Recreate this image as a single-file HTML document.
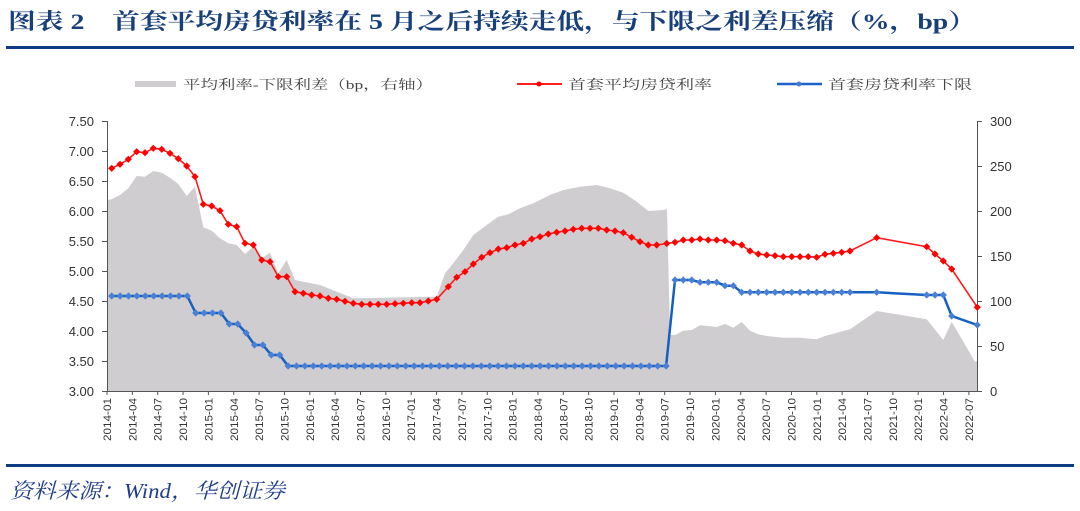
<!DOCTYPE html>
<html><head><meta charset="utf-8"><style>
html,body{margin:0;padding:0;background:#fff;}
svg{display:block;}
</style></head><body>
<svg width="1080" height="511" viewBox="0 0 1080 511" xmlns="http://www.w3.org/2000/svg">
<defs>
<marker id="mr" viewBox="-4 -4 8 8" markerWidth="8" markerHeight="8" markerUnits="userSpaceOnUse" refX="0" refY="0"><path d="M-3.6 0L0 -3.6L3.6 0L0 3.6Z" fill="#ff0000"/></marker>
<marker id="mb" viewBox="-4 -4 8 8" markerWidth="8" markerHeight="8" markerUnits="userSpaceOnUse" refX="0" refY="0"><path d="M-3.6 0L0 -3.6L3.6 0L0 3.6Z" fill="#4a7fd4"/></marker>
</defs>
<text x="8" y="29" font-family="'Liberation Serif','Noto Serif CJK SC',serif" font-weight="bold" font-size="22" fill="#173f7a" textLength="968" lengthAdjust="spacingAndGlyphs">图表 2　首套平均房贷利率在 5 月之后持续走低，与下限之利差压缩（%，bp）</text>
<rect x="6" y="46" width="1068" height="3" fill="#0f3d84"/>
<rect x="6" y="464" width="1068" height="3" fill="#0f3d84"/>
<text x="10" y="498" font-family="'Liberation Serif','Noto Serif CJK SC',serif" font-style="italic" font-size="21" fill="#1f3c88" textLength="275" lengthAdjust="spacingAndGlyphs">资料来源：Wind，华创证券</text>

<g font-family="'Liberation Serif','Noto Serif CJK SC',serif" font-size="13" fill="#444">
<rect x="135" y="81" width="41" height="6" fill="#cfcdcf"/>
<text x="183" y="89" textLength="250" lengthAdjust="spacingAndGlyphs">平均利率-下限利差（bp，右轴）</text>
<line x1="517" y1="84" x2="562" y2="84" stroke="#ff2020" stroke-width="2"/><circle cx="539" cy="84" r="2.5" fill="#ff0000"/>
<text x="568" y="89" textLength="144" lengthAdjust="spacingAndGlyphs">首套平均房贷利率</text>
<line x1="777" y1="84" x2="822" y2="84" stroke="#1f62c8" stroke-width="2.5"/><circle cx="799" cy="84" r="2.5" fill="#4a7bd0"/>
<text x="828" y="89" textLength="144" lengthAdjust="spacingAndGlyphs">首套房贷利率下限</text>
</g>

<polygon fill="#cfcdcf" points="107,391 107,200 111.7,199.3 120,195 128.3,188.3 136.7,176 145,176.7 153.3,171 161.7,172.7 170,177.7 178.3,184 186.7,196 195,186.7 203.3,227.3 211.7,230.7 220,238.3 228.3,243.3 236.7,245 245,254 253.3,246.7 261.7,258.3 270,252.7 278.3,273.3 286.7,260 295,280 303.3,281.7 320,285 336.7,291.7 353.3,298.3 436.7,296.7 445,273.3 453.3,263.3 463.3,250 473.3,235 486.7,225 498.3,216.7 508.3,214.3 520,208.3 533.3,203.3 550,195 563.3,190 580,186.7 596.7,185 610,188.3 623.3,192.7 636.7,201.7 648.3,211 663.3,210 667,209 670,335 675,335 683.3,330.7 691.7,330 700,325.3 708.3,326 716.7,327 725,324 733.3,327.7 741.7,322 750,330.7 758.3,334.3 766.7,336 783.3,337.7 800,337.7 816.7,339.3 825,336 850,329.3 876.7,311 926.7,319.3 943.3,340 951.7,321.7 975,361.7 977,361 977,391"/>

<g stroke="#555" stroke-width="1" fill="none">
<line x1="107.5" y1="121" x2="107.5" y2="391"/>
<line x1="977.5" y1="121" x2="977.5" y2="391"/>
<line x1="107" y1="391.5" x2="977" y2="391.5"/>
<path d="M102 121.5H107 M102 151.5H107 M102 181.5H107 M102 211.5H107 M102 241.5H107 M102 271.5H107 M102 301.5H107 M102 331.5H107 M102 361.5H107 M102 391.5H107"/>
<path d="M977 121.5H982 M977 166.5H982 M977 211.5H982 M977 256.5H982 M977 301.5H982 M977 346.5H982 M977 391.5H982"/>
<path d="M107 391V395 M132.35 391V395 M157.7 391V395 M183.05 391V395 M208.4 391V395 M233.75 391V395 M259.1 391V395 M284.45 391V395 M309.8 391V395 M335.15 391V395 M360.5 391V395 M385.85 391V395 M411.2 391V395 M436.55 391V395 M461.9 391V395 M487.25 391V395 M512.6 391V395 M537.95 391V395 M563.3 391V395 M588.65 391V395 M614 391V395 M639.35 391V395 M664.7 391V395 M690.05 391V395 M715.4 391V395 M740.75 391V395 M766.1 391V395 M791.45 391V395 M816.8 391V395 M842.15 391V395 M867.5 391V395 M892.85 391V395 M918.2 391V395 M943.55 391V395 M968.9 391V395"/>
</g>
<g font-family="'Liberation Sans',sans-serif" font-size="13" fill="#333" text-anchor="end">
<text x="94" y="126">7.50</text><text x="94" y="156">7.00</text><text x="94" y="186">6.50</text><text x="94" y="216">6.00</text><text x="94" y="246">5.50</text><text x="94" y="276">5.00</text><text x="94" y="306">4.50</text><text x="94" y="336">4.00</text><text x="94" y="366">3.50</text><text x="94" y="396">3.00</text>
</g>
<g font-family="'Liberation Sans',sans-serif" font-size="13" fill="#333">
<text x="990" y="126">300</text><text x="990" y="171">250</text><text x="990" y="216">200</text><text x="990" y="261">150</text><text x="990" y="306">100</text><text x="990" y="351">50</text><text x="990" y="396">0</text>
</g>
<g font-family="'Liberation Sans Narrow','Liberation Sans',sans-serif" font-size="11" fill="#333" text-anchor="end">
<text transform="translate(111,398) rotate(-90)" textLength="43" lengthAdjust="spacingAndGlyphs">2014-01</text>
<text transform="translate(136.35,398) rotate(-90)" textLength="43" lengthAdjust="spacingAndGlyphs">2014-04</text>
<text transform="translate(161.7,398) rotate(-90)" textLength="43" lengthAdjust="spacingAndGlyphs">2014-07</text>
<text transform="translate(187.05,398) rotate(-90)" textLength="43" lengthAdjust="spacingAndGlyphs">2014-10</text>
<text transform="translate(212.4,398) rotate(-90)" textLength="43" lengthAdjust="spacingAndGlyphs">2015-01</text>
<text transform="translate(237.75,398) rotate(-90)" textLength="43" lengthAdjust="spacingAndGlyphs">2015-04</text>
<text transform="translate(263.1,398) rotate(-90)" textLength="43" lengthAdjust="spacingAndGlyphs">2015-07</text>
<text transform="translate(288.45,398) rotate(-90)" textLength="43" lengthAdjust="spacingAndGlyphs">2015-10</text>
<text transform="translate(313.8,398) rotate(-90)" textLength="43" lengthAdjust="spacingAndGlyphs">2016-01</text>
<text transform="translate(339.15,398) rotate(-90)" textLength="43" lengthAdjust="spacingAndGlyphs">2016-04</text>
<text transform="translate(364.5,398) rotate(-90)" textLength="43" lengthAdjust="spacingAndGlyphs">2016-07</text>
<text transform="translate(389.85,398) rotate(-90)" textLength="43" lengthAdjust="spacingAndGlyphs">2016-10</text>
<text transform="translate(415.2,398) rotate(-90)" textLength="43" lengthAdjust="spacingAndGlyphs">2017-01</text>
<text transform="translate(440.55,398) rotate(-90)" textLength="43" lengthAdjust="spacingAndGlyphs">2017-04</text>
<text transform="translate(465.9,398) rotate(-90)" textLength="43" lengthAdjust="spacingAndGlyphs">2017-07</text>
<text transform="translate(491.25,398) rotate(-90)" textLength="43" lengthAdjust="spacingAndGlyphs">2017-10</text>
<text transform="translate(516.6,398) rotate(-90)" textLength="43" lengthAdjust="spacingAndGlyphs">2018-01</text>
<text transform="translate(541.95,398) rotate(-90)" textLength="43" lengthAdjust="spacingAndGlyphs">2018-04</text>
<text transform="translate(567.3,398) rotate(-90)" textLength="43" lengthAdjust="spacingAndGlyphs">2018-07</text>
<text transform="translate(592.65,398) rotate(-90)" textLength="43" lengthAdjust="spacingAndGlyphs">2018-10</text>
<text transform="translate(618,398) rotate(-90)" textLength="43" lengthAdjust="spacingAndGlyphs">2019-01</text>
<text transform="translate(643.35,398) rotate(-90)" textLength="43" lengthAdjust="spacingAndGlyphs">2019-04</text>
<text transform="translate(668.7,398) rotate(-90)" textLength="43" lengthAdjust="spacingAndGlyphs">2019-07</text>
<text transform="translate(694.05,398) rotate(-90)" textLength="43" lengthAdjust="spacingAndGlyphs">2019-10</text>
<text transform="translate(719.4,398) rotate(-90)" textLength="43" lengthAdjust="spacingAndGlyphs">2020-01</text>
<text transform="translate(744.75,398) rotate(-90)" textLength="43" lengthAdjust="spacingAndGlyphs">2020-04</text>
<text transform="translate(770.1,398) rotate(-90)" textLength="43" lengthAdjust="spacingAndGlyphs">2020-07</text>
<text transform="translate(795.45,398) rotate(-90)" textLength="43" lengthAdjust="spacingAndGlyphs">2020-10</text>
<text transform="translate(820.8,398) rotate(-90)" textLength="43" lengthAdjust="spacingAndGlyphs">2021-01</text>
<text transform="translate(846.15,398) rotate(-90)" textLength="43" lengthAdjust="spacingAndGlyphs">2021-04</text>
<text transform="translate(871.5,398) rotate(-90)" textLength="43" lengthAdjust="spacingAndGlyphs">2021-07</text>
<text transform="translate(896.85,398) rotate(-90)" textLength="43" lengthAdjust="spacingAndGlyphs">2021-10</text>
<text transform="translate(922.2,398) rotate(-90)" textLength="43" lengthAdjust="spacingAndGlyphs">2022-01</text>
<text transform="translate(947.55,398) rotate(-90)" textLength="43" lengthAdjust="spacingAndGlyphs">2022-04</text>
<text transform="translate(972.9,398) rotate(-90)" textLength="43" lengthAdjust="spacingAndGlyphs">2022-07</text>
</g>

<polyline fill="none" stroke="#1560c0" stroke-width="2.5" marker-start="url(#mb)" marker-mid="url(#mb)" marker-end="url(#mb)" points="111.7,296 120.1,296 128.5,296 136.9,296 145.3,296 153.7,296 162.1,296 170.5,296 178.9,296 187.3,296 195.7,313 204.1,313 212.5,313 220.9,313 229.3,324 237.7,324 246.1,333 254.5,345 262.9,345 271.3,355 279.7,355 288.1,366 296.5,366 304.9,366 313.3,366 321.7,366 330.1,366 338.5,366 346.9,366 355.3,366 363.7,366 372.1,366 380.5,366 388.9,366 397.3,366 405.7,366 414.1,366 422.5,366 430.9,366 439.3,366 447.7,366 456.1,366 464.5,366 472.9,366 481.3,366 489.7,366 498.1,366 506.5,366 514.9,366 523.3,366 531.7,366 540.1,366 548.5,366 556.9,366 565.3,366 573.7,366 582.1,366 590.5,366 598.9,366 607.3,366 615.7,366 624.1,366 632.5,366 640.9,366 649.3,366 657.7,366 666.1,366 675,280 683.3,280 691.7,280 700,282.3 708.3,282.3 716.7,282.3 725,285.7 733.3,285.7 741.7,292.3 750,292.3 758.3,292.3 766.7,292.3 775,292.3 783.3,292.3 791.7,292.3 800,292.3 808.3,292.3 816.7,292.3 825,292.3 833.3,292.3 841.7,292.3 850,292.3 876.7,292.3 926.7,295 935,295 943.3,295 951.7,316 977.3,325"/>

<polyline fill="none" stroke="#ff1a1a" stroke-width="1.6" marker-start="url(#mr)" marker-mid="url(#mr)" marker-end="url(#mr)" points="111.7,168.3 120,164.3 128.3,159.3 136.7,151.7 145,152.7 153.3,148.3 161.7,149.3 170,153.3 178.3,158.7 186.7,166 195,176.7 203.3,204.3 211.7,206 220,210.7 228.3,224.3 236.7,226.7 245,243.3 253.3,245 261.7,260 270,261.7 278.3,276.7 286.7,276.7 295,291.7 303.3,293.3 311.7,295 320,296 328.3,298.3 336.7,299.3 345,301.3 353.3,303.3 361.7,304.3 370,304.3 378.3,304.3 386.7,304.3 395,303.7 403.3,303.3 411.7,302.7 420,302.7 428.3,301 436.7,299.3 448.3,286.7 456.7,277.3 465,271.7 473.3,264 481.7,257.3 490,252.7 498.3,249 506.7,247.7 515,245 523.3,243.3 531.7,239 540,236.7 548.3,234 556.7,232.3 565,231 573.3,229.3 581.7,228.3 590,228.3 598.3,228.3 606.7,230 615,231 623.3,232.7 631.7,237.3 640,241.7 648.3,245 656.7,245 666.7,243.5 675,242.3 683.3,240 691.7,240 700,239 708.3,240 716.7,240 725,240.7 733.3,243.3 741.7,245 750,251 758.3,254 766.7,255 775,255.7 783.3,256.7 791.7,256.7 800,256.7 808.3,256.7 816.7,257.3 825,254.3 833.3,253.3 841.7,252.3 850,251 876.7,237.7 926.7,246.7 935,254 943.3,261 951.7,269 977.3,307.3"/>
</svg>
</body></html>
